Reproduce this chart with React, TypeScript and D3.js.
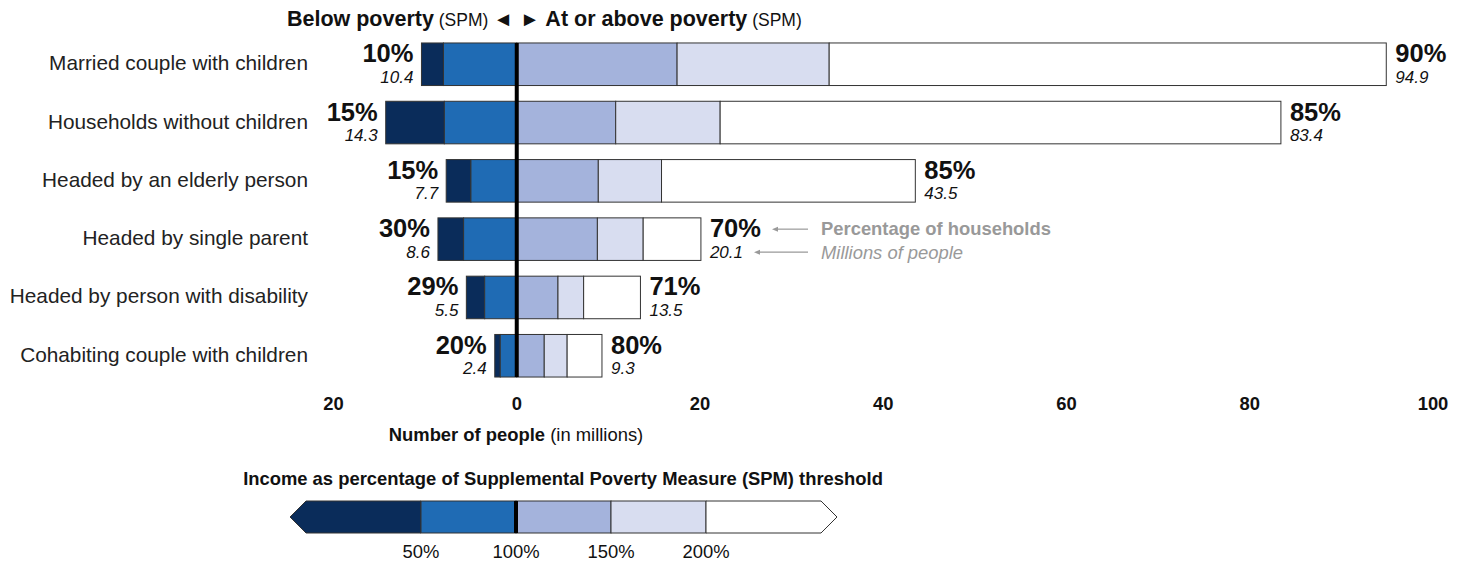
import React from "react";
import * as d3 from "d3";

const categories = [
  "Married couple with children",
  "Households without children",
  "Headed by an elderly person",
  "Headed by single parent",
  "Headed by person with disability",
  "Cohabiting couple with children",
];
// millions of people by income as % of SPM threshold
const below50 = [2.4, 6.4, 2.7, 2.8, 2.0, 0.6];
const from50to100 = [8.0, 7.9, 5.0, 5.8, 3.5, 1.8];
const from100to150 = [17.5, 10.8, 8.9, 8.8, 4.5, 3.0];
const from150to200 = [16.6, 11.4, 6.9, 5.0, 2.8, 2.5];
const above200 = [60.8, 61.2, 27.7, 6.3, 6.2, 3.8];
const belowPct = [10, 15, 15, 30, 29, 20];
const abovePct = [90, 85, 85, 70, 71, 80];
const belowTotal = [10.4, 14.3, 7.7, 8.6, 5.5, 2.4];
const aboveTotal = [94.9, 83.4, 43.5, 20.1, 13.5, 9.3];
const xTicks = [-20, 0, 20, 40, 60, 80, 100];
const legendThresholds = [50, 100, 150, 200];
const legendLabels = ["50%", "100%", "150%", "200%"];

const colors = ["#0a2c5a", "#1f6bb4", "#a4b3dc", "#d8ddf0", "#ffffff"];
const FONT = "'Liberation Sans', Arial, Helvetica, sans-serif";

export default function App() {
  const W = 1465, H = 561;
  const x = d3.scaleLinear().domain([-20, 100]).range([333.5, 1433]);
  const y = d3.scaleBand<string>().domain(categories).range([35.1, 384.9]).paddingInner(0.27).paddingOuter(0.135);
  const bw = y.bandwidth();
  const x0 = x(0);

  const rows = categories.map((c, i) => {
    const leftVals = [below50[i], from50to100[i]];
    const rightVals = [from100to150[i], from150to200[i], above200[i]];
    const segs: { a: number; b: number; color: string }[] = [];
    const leftTotal = leftVals[0] + leftVals[1];
    segs.push({ a: -leftTotal, b: -leftVals[1], color: colors[0] });
    segs.push({ a: -leftVals[1], b: 0, color: colors[1] });
    let acc = 0;
    rightVals.forEach((v, k) => {
      segs.push({ a: acc, b: acc + v, color: colors[2 + k] });
      acc += v;
    });
    return { c, i, segs, leftTotal, rightTotal: acc };
  });

  // legend
  const lx = d3.scaleLinear().domain([50, 100]).range([421, 516]);
  const lTop = 501, lH = 32, lMid = lTop + lH / 2;
  const lLeftEnd = lx(50) - 115, lRightEnd = lx(200) + 115;
  const tip = 16;

  return (
    <svg width={W} height={H} style={{ position: "absolute", left: 0, top: 0, background: "#fff" }} fontFamily={FONT}>
      {/* header */}
      <text x={513} y={26} textAnchor="end" fontSize={21.5} fill="#111">
        <tspan fontWeight="bold">Below poverty</tspan>
        <tspan fontSize={17.5}> (SPM)  </tspan>
        <tspan fontSize={20}>◄</tspan>
      </text>
      <text x={520} y={26} textAnchor="start" fontSize={21.5} fill="#111">
        <tspan fontSize={20}>► </tspan>
        <tspan fontWeight="bold">At or above poverty</tspan>
        <tspan fontSize={17.5}> (SPM)</tspan>
      </text>

      {/* category labels */}
      {categories.map((c) => (
        <text key={c} x={308} y={y(c)! + bw / 2 + 6} textAnchor="end" fontSize={20.8} fill="#222">
          {c}
        </text>
      ))}

      {/* bars */}
      {rows.map((r) => (
        <g key={r.c}>
          {r.segs.map((s, k) => (
            <rect
              key={k}
              x={x(s.a)}
              y={y(r.c)!}
              width={Math.max(0, x(s.b) - x(s.a))}
              height={bw}
              fill={s.color}
              stroke="#333"
              strokeWidth={1}
            />
          ))}
          <text x={x(-r.leftTotal) - 8} y={y(r.c)! + bw / 2 - 2} textAnchor="end" fontSize={25.5} fontWeight="bold" fill="#111">
            {belowPct[r.i]}%
          </text>
          <text x={x(-r.leftTotal) - 8} y={y(r.c)! + bw / 2 + 18.5} textAnchor="end" fontSize={17} fontStyle="italic" fill="#111">
            {belowTotal[r.i].toFixed(1)}
          </text>
          <text x={x(r.rightTotal) + 9} y={y(r.c)! + bw / 2 - 2} textAnchor="start" fontSize={25.5} fontWeight="bold" fill="#111">
            {abovePct[r.i]}%
          </text>
          <text x={x(r.rightTotal) + 9} y={y(r.c)! + bw / 2 + 18.5} textAnchor="start" fontSize={17} fontStyle="italic" fill="#111">
            {aboveTotal[r.i].toFixed(1)}
          </text>
        </g>
      ))}

      {/* zero line */}
      <line x1={x0} x2={x0} y1={y(categories[0])!} y2={y(categories[categories.length - 1])! + bw} stroke="#000" strokeWidth={4} />

      {/* annotation */}
      {(() => {
        const c = categories[3];
        const cy = y(c)! + bw / 2;
        return (
          <g fill="#999" stroke="none">
            <line x1={808} x2={776} y1={cy - 10} y2={cy - 10} stroke="#999" strokeWidth={1.2} />
            <path d={`M772,${cy - 10} l6,-2.5 l0,5 z`} fill="#999" />
            <line x1={808} x2={758} y1={cy + 13} y2={cy + 13} stroke="#999" strokeWidth={1.2} />
            <path d={`M754,${cy + 13} l6,-2.5 l0,5 z`} fill="#999" />
            <text x={821} y={cy - 4} fontSize={18.4} fontWeight="bold" fill="#999">Percentage of households</text>
            <text x={821} y={cy + 20} fontSize={18.4} fontStyle="italic" fill="#999">Millions of people</text>
          </g>
        );
      })()}

      {/* x axis tick labels */}
      {xTicks.map((t) => (
        <text key={t} x={x(t)} y={410} textAnchor="middle" fontSize={18.4} fontWeight="bold" fill="#111">
          {Math.abs(t)}
        </text>
      ))}
      <text x={516} y={441} textAnchor="middle" fontSize={18.4} fill="#111">
        <tspan fontWeight="bold">Number of people</tspan>
        <tspan> (in millions)</tspan>
      </text>

      {/* legend */}
      <text x={563} y={485} textAnchor="middle" fontSize={18.4} fontWeight="bold" fill="#111">
        Income as percentage of Supplemental Poverty Measure (SPM) threshold
      </text>
      <path
        d={`M${lLeftEnd},${lTop} L${lx(50)},${lTop} L${lx(50)},${lTop + lH} L${lLeftEnd},${lTop + lH} L${lLeftEnd - tip},${lMid} Z`}
        fill={colors[0]}
        stroke="#333"
        strokeWidth={1}
      />
      {legendThresholds.slice(0, 3).map((t, k) => (
        <rect
          key={t}
          x={lx(t)}
          y={lTop}
          width={lx(legendThresholds[k + 1]) - lx(t)}
          height={lH}
          fill={colors[k + 1]}
          stroke="#333"
          strokeWidth={1}
        />
      ))}
      <path
        d={`M${lx(200)},${lTop} L${lRightEnd},${lTop} L${lRightEnd + tip},${lMid} L${lRightEnd},${lTop + lH} L${lx(200)},${lTop + lH} Z`}
        fill={colors[4]}
        stroke="#333"
        strokeWidth={1}
      />
      <line x1={lx(100)} x2={lx(100)} y1={lTop} y2={lTop + lH} stroke="#000" strokeWidth={4} />
      {legendThresholds.map((t, k) => (
        <text key={t} x={lx(t)} y={558} textAnchor="middle" fontSize={18.4} fill="#111">
          {legendLabels[k]}
        </text>
      ))}
    </svg>
  );
}
